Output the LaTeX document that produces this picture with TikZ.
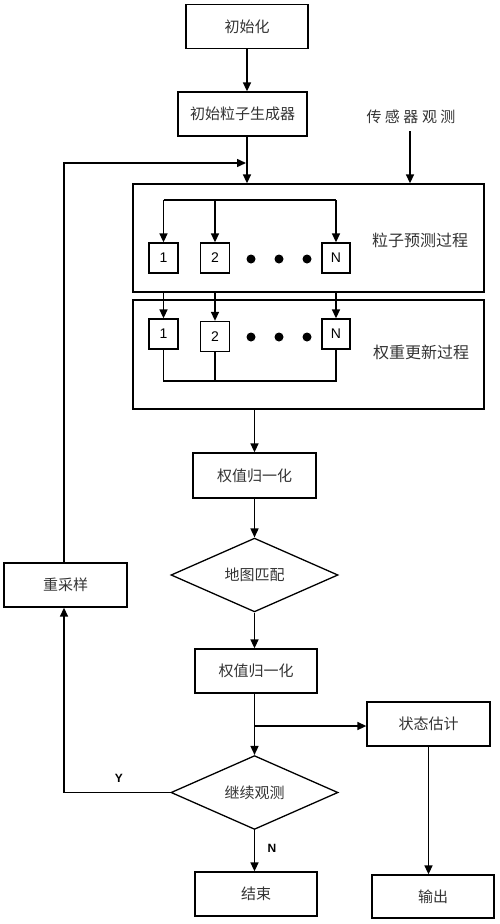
\documentclass[tikz,border=0pt]{standalone}
\usepackage{fontspec}
\setmainfont{Liberation Sans}
\newfontfamily\cjk{Noto Sans CJK SC}
\usetikzlibrary{shapes.geometric,arrows.meta,calc}
\begin{document}
\begin{tikzpicture}[x=1pt,y=-1pt,
  box/.style={draw,line width=1.3pt,minimum width=122pt,minimum height=44pt,inner sep=0pt,text=black!80,font=\cjk\fontsize{15}{15}\selectfont},
  bigbox/.style={draw,line width=1.3pt,minimum width=351pt,inner sep=0pt},
  sbox/.style={draw,line width=1.3pt,minimum width=29pt,minimum height=30pt,inner sep=0pt,font=\fontsize{14}{14}\selectfont},
  dia/.style={draw,shape=diamond,line width=1.3pt,minimum width=167pt,minimum height=64pt,inner sep=0pt,text=black!80,font=\cjk\fontsize{15}{15}\selectfont},
  lbl/.style={inner sep=0pt,text=black!80,font=\cjk\fontsize{16}{16}\selectfont},
  yn/.style={inner sep=0pt,font=\bfseries\fontsize{12}{12}\selectfont},
  dotn/.style={circle,fill=black,inner sep=0pt,minimum size=9pt},
  arr/.style={line width=1.5pt,-{Triangle[length=9pt,width=8pt]}},
  ln/.style={line width=1.5pt}]
\useasboundingbox (0,0) rectangle (500,924);
% nodes
\node[box] (init) at (247,26.5) {初始化};
\node[box,minimum width=129pt] (gen) at (242.5,114) {初始粒子生成器};
\node[lbl,font=\cjk\fontsize{15}{15}\selectfont] (sensor) at (411,117) {传\hspace{3.5pt}感\hspace{3.5pt}器\hspace{3.5pt}观\hspace{3.5pt}测};
\node[bigbox,minimum height=108pt] (big1) at (308.5,238) {};
\node[bigbox,minimum height=109pt] (big2) at (308.5,354.5) {};
\node[sbox] (p1a) at (163.5,258) {1};
\node[sbox] (p2a) at (215,258) {2};
\node[sbox,minimum width=28pt] (pNa) at (336,258) {N};
\node[sbox] (p1b) at (163.5,334) {1};
\node[sbox] (p2b) at (215,336.5) {2};
\node[sbox,minimum width=28pt] (pNb) at (336,334) {N};
\node[dotn] (d1a) at (251,259) {};
\node[dotn] (d2a) at (279,259) {};
\node[dotn] (d3a) at (307,259) {};
\node[dotn] (d1b) at (251,337) {};
\node[dotn] (d2b) at (279,337) {};
\node[dotn] (d3b) at (307,337) {};
\node[lbl] (l1) at (420,240) {粒子预测过程};
\node[lbl] (l2) at (421,352) {权重更新过程};
\node[box,minimum width=123pt,minimum height=45pt] (norm1) at (254.5,475.5) {权值归一化};
\node[dia] (match) at (254.5,575) {地图匹配};
\node[box] (norm2) at (256,671) {权值归一化};
\node[box,minimum width=123pt] (est) at (428.5,724) {状态估计};
\node[dia,minimum height=65pt] (cont) at (254.5,792.5) {继续观测};
\node[box] (end) at (256,894) {结束};
\node[box,minimum height=43pt] (out) at (433,896.5) {输出};
\node[box,minimum width=123pt] (res) at (65.5,585) {重采样};
\node[yn] (Y) at (119,778) {Y};
\node[yn] (N) at (272,848) {N};
% coordinates
\coordinate (mx) at (247,0);
\coordinate (sx) at (410,0);
\coordinate (loopc) at (64,163);
\coordinate (tl) at (0,200);
\coordinate (bl) at (0,381);
\coordinate (br) at (254.5,726);
% connectors
\draw[arr] (init.south -| mx) -- (gen.north -| mx);
\draw[arr] (gen.south -| mx) -- (big1.north -| mx);
\draw[arr] (res.north -| loopc) -- (loopc) -- ($(loopc -| mx)+(-1,0)$);
\draw[arr] ($(sensor.south -| sx)+(0,7)$) -- (big1.north -| sx);
\draw[ln] (p1a |- tl) -- (pNa |- tl);
\draw[arr] (p1a |- tl) -- (p1a.north);
\draw[arr] (p2a |- tl) -- (p2a.north);
\draw[arr] (pNa |- tl) -- (pNa.north);
\draw[arr] (p1a |- big1.south) -- (p1b.north);
\draw[arr] (p2a |- big1.south) -- (p2b.north);
\draw[arr] (pNa |- big1.south) -- (pNb.north);
\draw[ln] (p1b.south) -- (p1b |- bl) -- (pNb |- bl) -- (pNb.south);
\draw[ln] (p2b.south) -- (p2b |- bl);
\draw[arr] (big2.south -| norm1) -- (norm1.north);
\draw[arr] (norm1.south) -- (match.north);
\draw[arr] (match.south) -- (match.south |- norm2.north);
\draw[arr] (norm2.south -| cont) -- (cont.north);
\draw[arr] (br) -- (br -| est.west);
\draw[arr] (cont.west) -- (cont.west -| loopc) -- (res.south -| loopc);
\draw[arr] (cont.south) -- (cont.south |- end.north);
\draw[arr] (est.south) -- (est.south |- out.north);
\end{tikzpicture}
\end{document}
